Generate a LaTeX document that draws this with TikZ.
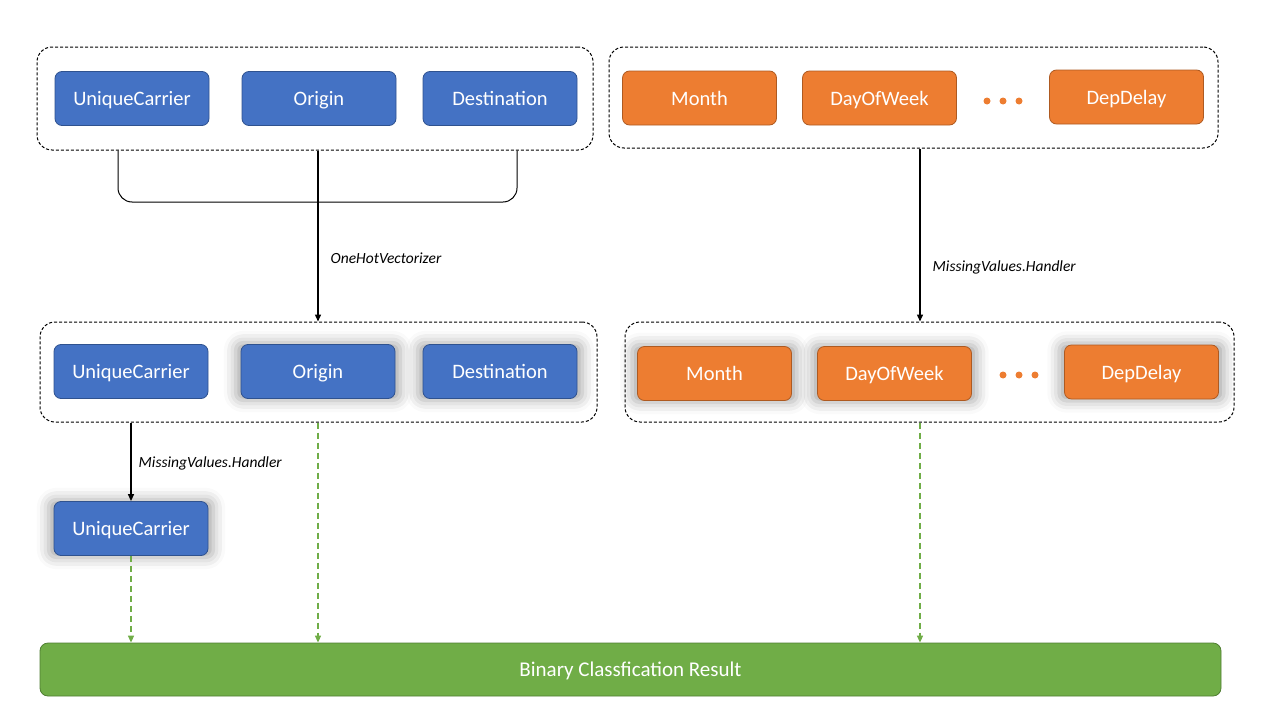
\documentclass[tikz,border=0pt]{standalone}
\usepackage{fontspec}
\setmainfont{Carlito}
\usetikzlibrary{arrows.meta,shadows.blur}
\definecolor{bluefill}{HTML}{4472C4}
\definecolor{blueline}{HTML}{2F528F}
\definecolor{orangefill}{HTML}{ED7D31}
\definecolor{orangeline}{HTML}{AE5A21}
\definecolor{greenfill}{HTML}{70AD47}
\definecolor{greenline}{HTML}{507E32}
\tikzset{
  box/.style={rectangle, rounded corners=7pt, minimum width=154pt, minimum height=54pt, inner sep=0pt, line width=0.8pt, text=white, font=\fontsize{20.5}{24}\selectfont, text height=17pt, text depth=3pt},
  bluebox/.style={box, fill=bluefill, draw=blueline},
  orangebox/.style={box, fill=orangefill, draw=orangeline},
  glow/.style={blur shadow={shadow xshift=0pt, shadow yshift=0pt, shadow blur radius=11pt, shadow opacity=34, shadow scale=1.07}},
  groupbox/.style={rectangle, rounded corners=15pt, draw=black, line width=1pt, dash pattern=on 3pt off 2pt, inner sep=0pt},
  blackarrow/.style={line width=1.4pt, draw=black, -{Triangle[width=6pt,length=7pt]}},
  greenarrow/.style={line width=1.5pt, draw=greenfill, dash pattern=on 6pt off 4pt, -{Triangle[width=6pt,length=7pt,fill=greenfill]}},
  lbl/.style={font=\fontsize{15.5}{18}\selectfont\itshape, anchor=west, inner sep=0pt},
  dotmark/.style={circle, fill=orangefill, inner sep=0pt, minimum size=7pt}
}
\begin{document}
\begin{tikzpicture}[x=1pt,y=-1pt]
\useasboundingbox (0,0) rectangle (1280,720);
% groups
\node[groupbox, minimum width=556pt, minimum height=103pt] (g1) at (315,98.5) {};
\node[groupbox, minimum width=609pt, minimum height=101pt] (g2) at (913.5,97.5) {};
\node[groupbox, minimum width=557pt, minimum height=100pt] (g3) at (318.5,372) {};
\node[groupbox, minimum width=609pt, minimum height=100pt] (g4) at (929.5,372) {};
% top row
\node[bluebox] (uc1) at (132,98.5) {UniqueCarrier};
\node[bluebox] (o1) at (319,98.5) {Origin};
\node[bluebox] (d1) at (500,98.5) {Destination};
\node[orangebox] (m1) at (699.5,98) {Month};
\node[orangebox] (w1) at (879.5,98) {DayOfWeek};
\node[dotmark] (p1a) at (987,101) {};
\node[dotmark] (p1b) at (1003,101) {};
\node[dotmark] (p1c) at (1019,101) {};
\node[orangebox] (dd1) at (1126.5,97) {DepDelay};
% middle row
\node[bluebox] (uc2) at (131,371.5) {UniqueCarrier};
\node[bluebox, glow] (o2) at (318,371.5) {Origin};
\node[bluebox, glow] (d2) at (500,371.5) {Destination};
\node[orangebox, glow] (m2) at (714.5,373.5) {Month};
\node[orangebox, glow] (w2) at (894.5,373.5) {DayOfWeek};
\node[dotmark] (p2a) at (1003,375) {};
\node[dotmark] (p2b) at (1019,375) {};
\node[dotmark] (p2c) at (1035,375) {};
\node[orangebox, glow] (dd2) at (1141.5,372) {DepDelay};
% bottom
\node[bluebox, glow] (uc3) at (131,528.5) {UniqueCarrier};
\node[rectangle, rounded corners=8pt, minimum width=1181pt, minimum height=53pt, fill=greenfill, draw=greenline, line width=0.8pt, text=white, font=\fontsize{21}{25}\selectfont, text height=17pt, text depth=3pt] (res) at (630.5,669.5) {Binary Classfication Result};
% bracket
\coordinate (bl) at (118,0);
\coordinate (br) at (517,0);
\coordinate (bb) at (0,202);
\coordinate (rx) at (920,0);
\draw[line width=1pt, rounded corners=14pt] (g1.south -| bl) -- (bl |- bb) -- (br |- bb) -- (g1.south -| br);
% arrows
\draw[blackarrow] (g1.south -| o2) -- node[lbl, pos=0.63, xshift=12pt] (l1) {OneHotVectorizer} (g3.north -| o2);
\draw[blackarrow] (g2.south -| rx) -- node[lbl, pos=0.69, xshift=12pt] (l2) {MissingValues.Handler} (g4.north -| rx);
\draw[blackarrow] (g3.south -| uc3) -- node[lbl, pos=0.52, xshift=7pt] (l3) {MissingValues.Handler} (uc3.north);
\draw[greenarrow] (uc3.south) -- (res.north -| uc3);
\draw[greenarrow] (g3.south -| o2) -- (res.north -| o2);
\draw[greenarrow] (g4.south -| rx) -- (res.north -| rx);
\end{tikzpicture}
\end{document}
